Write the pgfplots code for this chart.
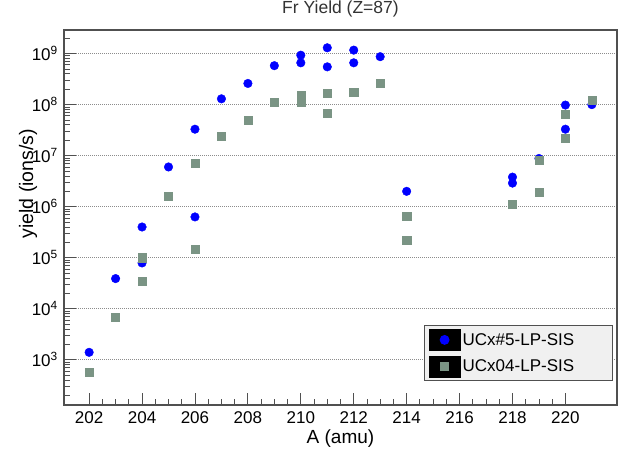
\documentclass[border=0pt]{standalone}
\usepackage{fontspec}
\setmainfont{Liberation Sans}
\usepackage{pgfplots}
\pgfplotsset{compat=1.18}
\definecolor{sqgray}{RGB}{122,148,132}
\definecolor{framecol}{RGB}{80,80,80}
\definecolor{gridcol}{RGB}{140,140,140}
\definecolor{legfill}{RGB}{240,240,240}
\begin{document}
\begin{tikzpicture}
\useasboundingbox (0,0) rectangle (618pt,450pt);
\begin{axis}[
  at={(64pt,45pt)}, anchor=south west, scale only axis,
  width=553pt, height=375pt,
  ymode=log, xmin=201.05, xmax=221.95, ymin=130, ymax=2.9e9,
  xtick={202,204,...,220}, minor x tick num=3,
  ytick={1e3,1e4,1e5,1e6,1e7,1e8,1e9},
  minor ytick={2e2,3e2,4e2,5e2,6e2,7e2,8e2,9e2,
    2e3,3e3,4e3,5e3,6e3,7e3,8e3,9e3,
    2e4,3e4,4e4,5e4,6e4,7e4,8e4,9e4,
    2e5,3e5,4e5,5e5,6e5,7e5,8e5,9e5,
    2e6,3e6,4e6,5e6,6e6,7e6,8e6,9e6,
    2e7,3e7,4e7,5e7,6e7,7e7,8e7,9e7,
    2e8,3e8,4e8,5e8,6e8,7e8,8e8,9e8,
    2e9},
  yticklabels={10\textsuperscript{3},10\textsuperscript{4},10\textsuperscript{5},10\textsuperscript{6},10\textsuperscript{7},10\textsuperscript{8},10\textsuperscript{9}},
  /pgf/number format/assume math mode=true,
  /pgf/number format/1000 sep={},
  tick pos=left, tick align=inside,
  major tick length=12pt, minor tick length=6pt,
  tick style={framecol, line width=0.9pt},
  axis line style={framecol, line width=1.4pt},
  ticklabel style={font=\fontsize{17}{20}\selectfont},
  xticklabel style={anchor=base, yshift=-18.5pt, inner sep=0pt},
  yticklabel style={anchor=east, xshift=-6pt, inner sep=0pt},
  ymajorgrids=true,
  major grid style={gridcol, line width=0.9pt, dash pattern=on 1pt off 1pt},
  title={Fr Yield (Z=87)},
  title style={at={(axis description cs:0.5,1)}, anchor=base, yshift=10pt, font=\fontsize{17.5}{20}\selectfont, text=black!80},
  xlabel={A (amu)},
  xlabel style={at={(axis description cs:0.5,0)}, anchor=base, yshift=-38pt, font=\fontsize{19}{22}\selectfont},
  ylabel={yield (ions/s)},
  ylabel style={at={(axis description cs:-0.0651,0.59)}, anchor=center, font=\fontsize{19.5}{22}\selectfont},
  legend cell align=left,
  legend style={at={(axis description cs:0.9933,0.0632)}, anchor=south east,
    draw=framecol, line width=1.2pt, fill=legfill,
    font=\fontsize{17}{20}\selectfont, inner xsep=4pt, inner ysep=3pt,
    row sep=4.5pt, /tikz/every even column/.append style={column sep=6pt}},
  legend image code/.code={
    \fill[black] (0pt,-10.5pt) rectangle (31pt,10.5pt);
    \draw plot coordinates {(15.5pt,0pt)};
  },
]
\addplot[only marks, mark=*, mark size=4.3pt, color=blue, mark options={draw=none, fill=blue}] table {
x y
202 1.4e3
203 3.9e4
204 4.0e5
204 7.9e4
205 6.0e6
206 3.3e7
206 6.3e5
207 1.3e8
208 2.6e8
209 5.8e8
210 9.3e8
210 6.6e8
211 1.3e9
211 5.5e8
212 1.17e9
212 6.6e8
213 8.7e8
214 2.0e6
218 3.8e6
218 2.9e6
219 8.8e6
220 9.8e7
220 3.3e7
221 1.0e8
};
\addlegendentry{\makebox[144pt][l]{UCx\#5-LP-SIS}}
\addplot[only marks, mark=square*, mark size=4.1pt, color=sqgray, mark options={draw=none, fill=sqgray}] table {
x y
202 5.8e2
203 6.9e3
204 1.0e5
204 3.5e4
205 1.6e6
206 7.2e6
206 1.45e5
207 2.4e7
208 5.0e7
209 1.1e8
210 1.55e8
210 1.1e8
211 1.7e8
211 6.7e7
212 1.78e8
213 2.6e8
214 6.5e5
214 2.2e5
218 1.1e6
219 8.1e6
219 1.95e6
220 6.5e7
220 2.2e7
221 1.23e8
};
\addlegendentry{\makebox[144pt][l]{UCx04-LP-SIS}}
\end{axis}
\end{tikzpicture}
\end{document}
